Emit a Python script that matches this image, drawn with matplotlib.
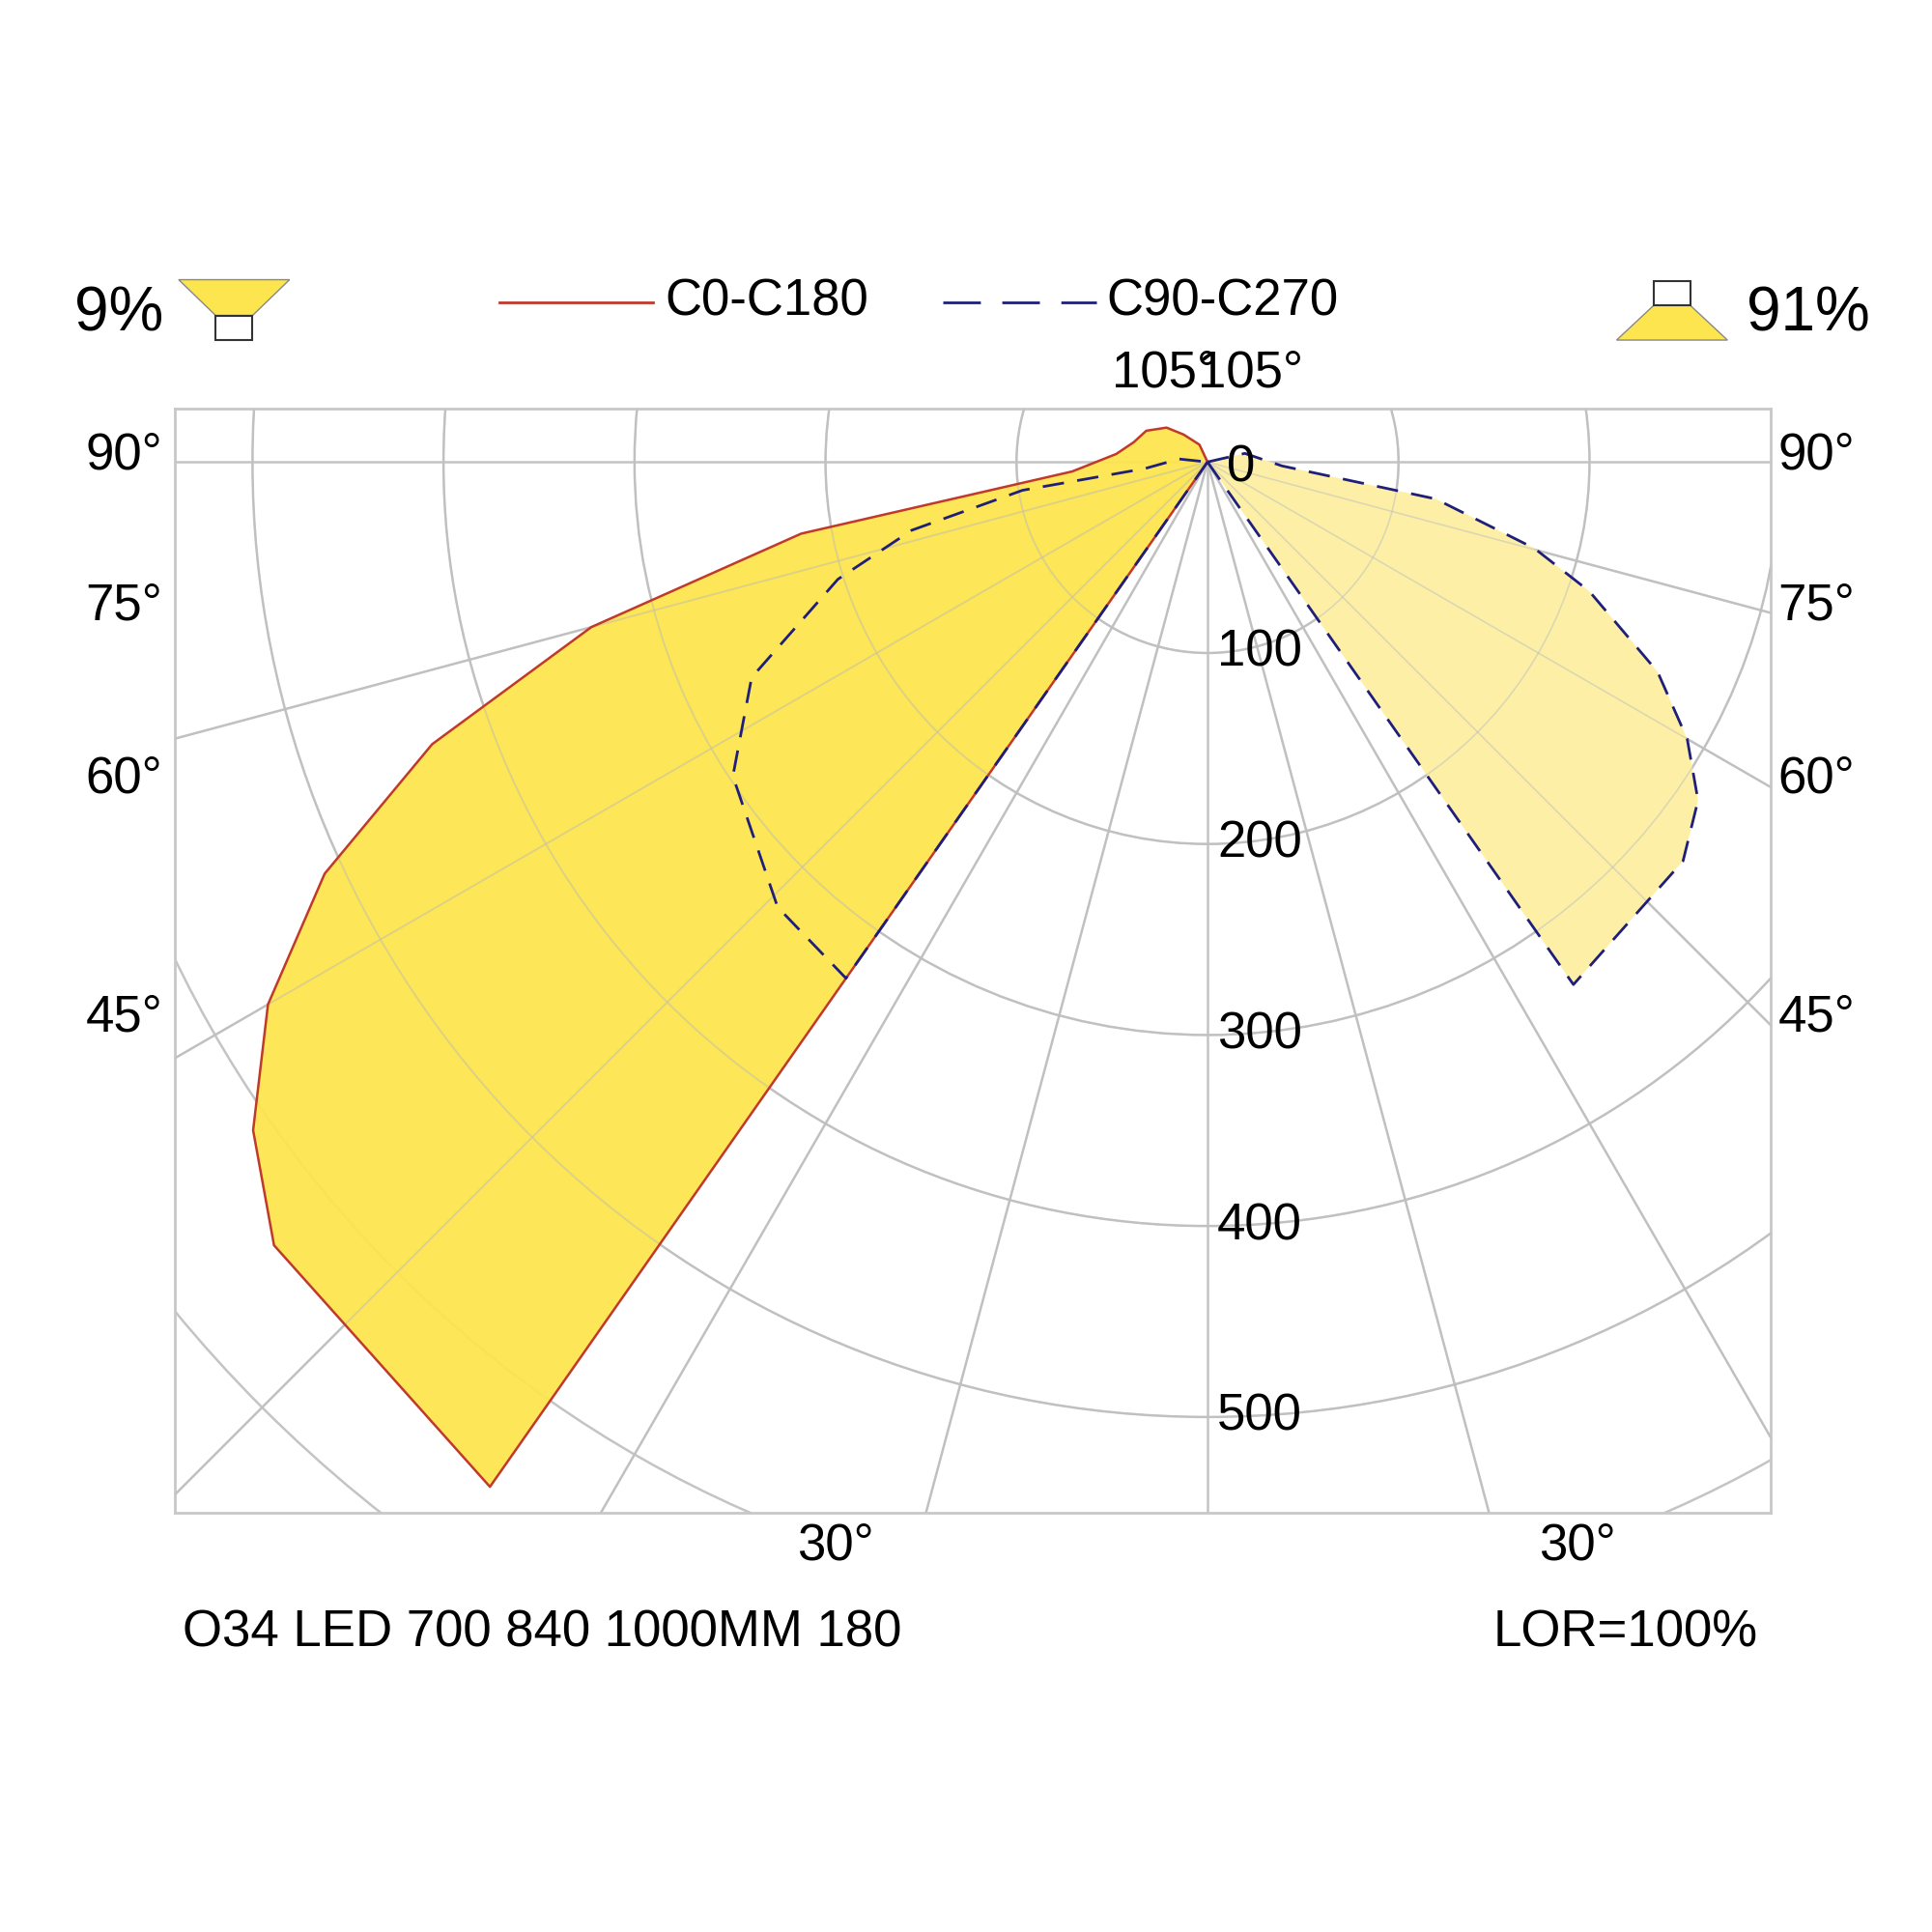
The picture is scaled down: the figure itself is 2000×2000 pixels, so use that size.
import numpy as np
import matplotlib
matplotlib.use("Agg")
import matplotlib.pyplot as plt
from matplotlib.patches import Polygon, Circle, Rectangle

plt.rcParams['font.family'] = ['Liberation Sans', 'DejaVu Sans']

# gamma angle from nadir (deg, positive = towards that half), intensity cd
c0_left_gamma = [0, 35, 50, 55, 60, 65, 70, 75, 80, 86, 95, 105, 117, 130, 139, 155, 180]
c0_left_cd    = [0, 655, 638, 610, 568, 510, 432, 334, 216, 71, 48, 40, 36, 28, 19, 10, 0]
c90_left_gamma = [35, 44, 56.5, 64.7, 72.4, 77, 81.3, 84, 96, 180]
c90_left_cd    = [330, 324, 298, 264, 203, 159, 98, 33, 15, 0]
c90_right_gamma = [35, 50, 55.4, 60, 65, 71.3, 75.2, 80.8, 87, 103, 180]
c90_right_cd    = [334, 325, 312, 290, 260, 211, 177, 121, 39, 20, 0]
ring_values = [100, 200, 300, 400, 500]
ring_labels = ["100", "200", "300", "400", "500"]

S = 1568.0
def fx(x): return x / S
def fy(y): return 1 - y / S

fig = plt.figure(figsize=(20, 20), dpi=100)
ax = fig.add_axes([fx(142), fy(1228), fx(1437) - fx(142), fy(332) - fy(1228)])
ax.set_xlim(-540.6, 294.8)
ax.set_ylim(-550.3, 27.7)
ax.set_aspect('equal')
ax.set_xticks([]); ax.set_yticks([])
for s in ax.spines.values():
    s.set_color('#c8c8c8'); s.set_linewidth(2)

def xy(g, r, side):
    g = np.radians(np.array(g, float)); r = np.array(r, float)
    return side * r * np.sin(g), -r * np.cos(g)

grid = '#c4c4c4'
for rv in list(ring_values) + [600, 700, 800]:
    ax.add_patch(Circle((0, 0), rv, fill=False, ec=grid, lw=1.8, zorder=1))
for a in range(15, 90, 15):
    for side in (-1, 1):
        x, y = xy([a, a], [0, 1200], side)
        ax.plot(x, y, color=grid, lw=1.8, zorder=1)
ax.plot([0, 0], [0, -1200], color=grid, lw=1.8, zorder=1)
ax.plot([-1000, 1000], [0, 0], color=grid, lw=1.8, zorder=1)

x1, y1 = xy(c0_left_gamma, c0_left_cd, -1)
ax.add_patch(Polygon(np.c_[x1, y1], closed=True, fc='#fde54f', ec='none', alpha=0.95, zorder=2))
x3, y3 = xy(c90_right_gamma, c90_right_cd, 1)
ax.add_patch(Polygon(np.c_[np.r_[0, x3], np.r_[0, y3]], closed=True, fc='#fdf0a6', ec='none', zorder=2))
for a in range(15, 90, 15):
    for side in (-1, 1):
        x, y = xy([a, a], [0, 1200], side)
        ax.plot(x, y, color='#bdbdbd', lw=1.2, alpha=0.5, zorder=3)
for rv in ring_values:
    ax.add_patch(Circle((0, 0), rv, fill=False, ec='#bdbdbd', lw=1.2, alpha=0.5, zorder=3))

ax.plot(np.r_[x1, x1[0]], np.r_[y1, y1[0]], color='#c0392b', lw=1.8, zorder=4)
x2, y2 = xy(c90_left_gamma, c90_left_cd, -1)
ax.plot(np.r_[0, x2], np.r_[0, y2], color='#1f1f7a', lw=2, dashes=(8, 5), zorder=4)
ax.plot(np.r_[0, x3, 0], np.r_[0, y3, 0], color='#1f1f7a', lw=2, dashes=(8, 5), zorder=4)

fs = 38
ax.text(10, -3, "0", fontsize=fs, va='center', ha='left', zorder=5)
for rv, lab in zip(ring_values, ring_labels):
    ax.text(5, -rv, lab, fontsize=fs, va='center', ha='left', zorder=5)

def ft(x, y, s, **kw):
    fig.text(fx(x), fy(y), s, fontsize=kw.pop('fontsize', fs), va='center', **kw)

for lab, y in [("90°", 370), ("75°", 492), ("60°", 632), ("45°", 826)]:
    ft(132, y, lab, ha='right')
    ft(1443, y, lab, ha='left')
ft(678, 1255, "30°", ha='center')
ft(1280, 1255, "30°", ha='center')
ft(945, 303, "105°", ha='center')
ft(1015, 303, "105°", ha='center')
ft(148, 1325, "O34 LED 700 840 1000MM 180", ha='left')
ft(1427, 1325, "LOR=100%", ha='right')
ft(60, 255, "9%", ha='left', fontsize=46)
ft(1518, 255, "91%", ha='right', fontsize=46)
ft(540, 245, "C0-C180", ha='left')
ft(898, 245, "C90-C270", ha='left')
fig.add_artist(plt.Line2D([fx(405), fx(530)], [fy(245), fy(245)], color='#c0392b', lw=2))
fig.add_artist(plt.Line2D([fx(765), fx(890)], [fy(245), fy(245)], color='#1f1f7a', lw=2, dashes=(14, 8)))

fig.add_artist(Polygon([[fx(145), fy(227)], [fx(235), fy(227)], [fx(205), fy(256)], [fx(175), fy(256)]],
                       closed=True, fc='#fde54f', ec='#888', lw=1))
fig.add_artist(Rectangle((fx(175), fy(276)), fx(30), fx(20), fc='white', ec='#333', lw=1.5))
fig.add_artist(Polygon([[fx(1342), fy(248)], [fx(1372), fy(248)], [fx(1402), fy(276)], [fx(1312), fy(276)]],
                       closed=True, fc='#fde54f', ec='#888', lw=1))
fig.add_artist(Rectangle((fx(1342), fy(248)), fx(30), fx(20), fc='white', ec='#333', lw=1.5))

fig.savefig("out.png", dpi=100, facecolor='white')
